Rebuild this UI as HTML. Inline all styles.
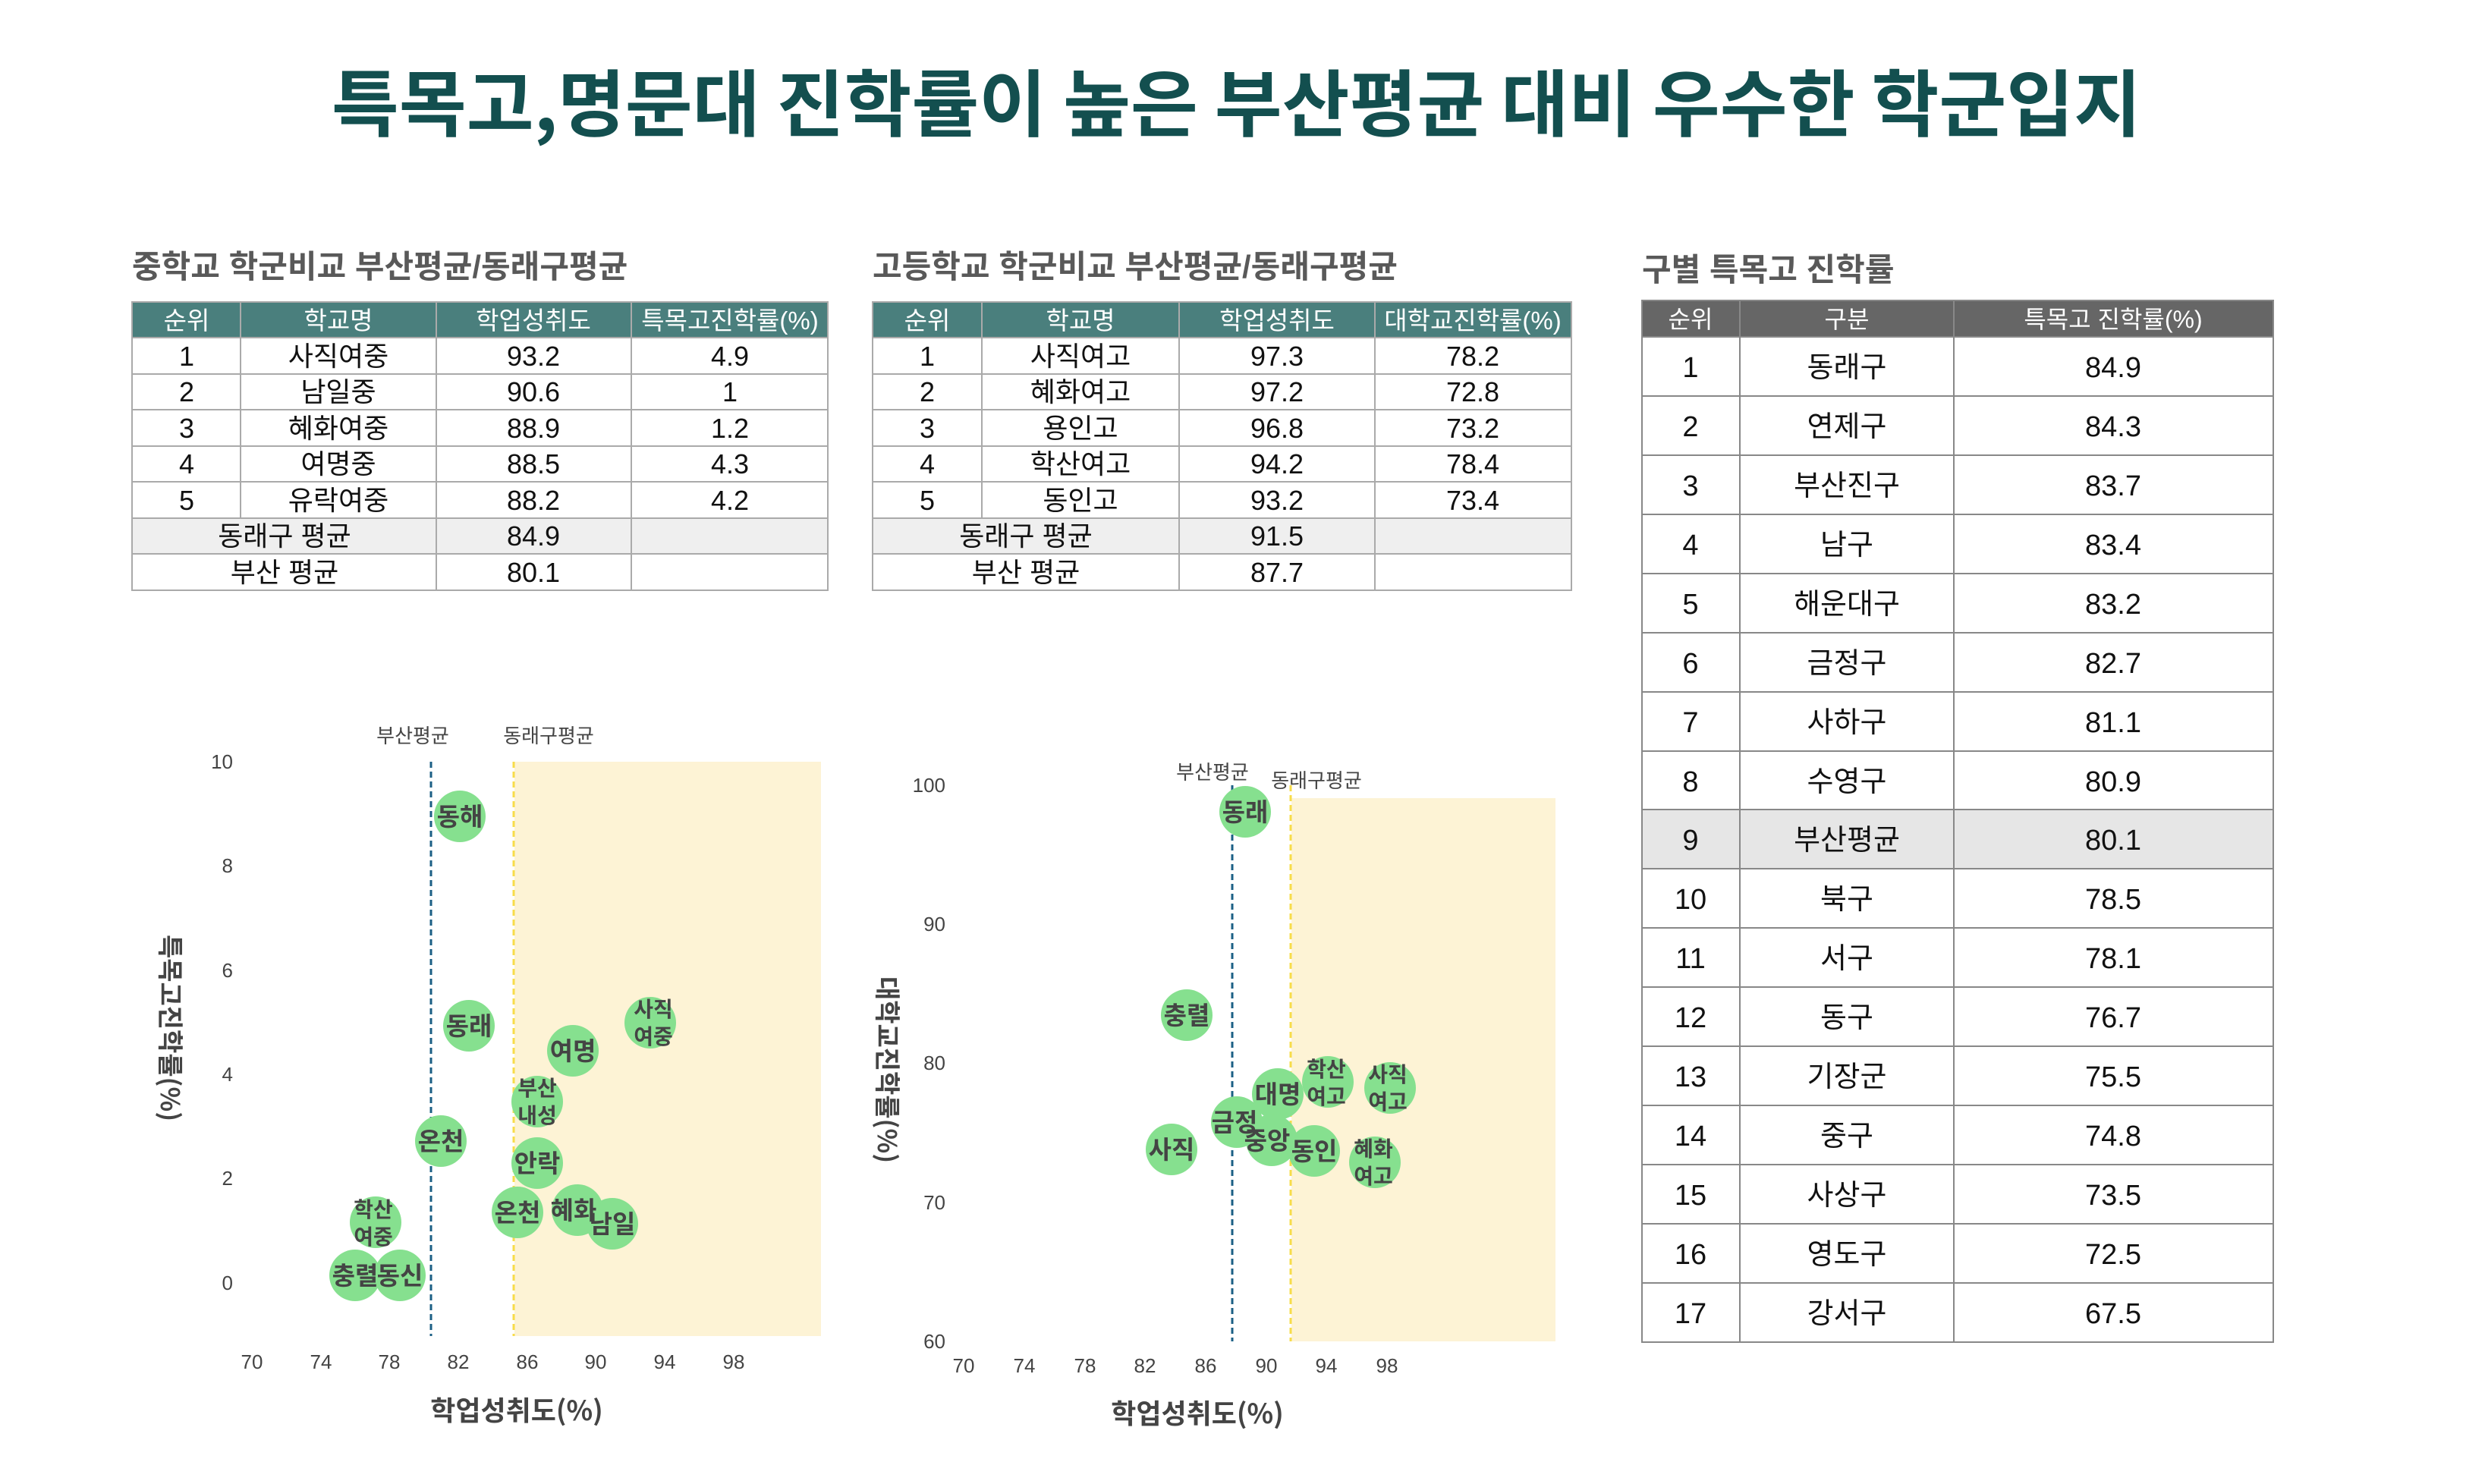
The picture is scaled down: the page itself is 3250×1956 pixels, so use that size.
<!DOCTYPE html>
<html><head><meta charset="utf-8"><style>
html,body{margin:0;padding:0;background:#fff;}
svg{display:block;}
text{font-family:"Liberation Sans","Noto Sans CJK KR",sans-serif;}
.k{font-family:"Noto Sans CJK KR","Liberation Sans",sans-serif;}
</style></head><body>
<svg width="3250" height="1956" viewBox="0 0 3250 1956" xmlns="http://www.w3.org/2000/svg">
<rect width="3250" height="1956" fill="#fff"/>
<text class="k" x="437" y="172" font-size="96" font-weight="700" fill="#134f4f" textLength="2385" lengthAdjust="spacingAndGlyphs">특목고,명문대 진학률이 높은 부산평균 대비 우수한 학군입지</text>

<g class="k" font-size="42" font-weight="700" fill="#595959">
<text x="174" y="366">중학교 학군비교 부산평균/동래구평균</text>
<text x="1150" y="366">고등학교 학군비교 부산평균/동래구평균</text>
<text x="2164" y="370">구별 특목고 진학률</text>
</g>

<!-- Table 1 -->
<g font-size="36" fill="#111" text-anchor="middle">
<rect x="174" y="398" width="917" height="47" fill="#4a7f7d"/>
<rect x="174" y="683" width="917" height="47" fill="#efefef"/>
<g fill="#fff" font-size="33"><text x="246" y="434">순위</text><text x="446" y="434">학교명</text><text x="703" y="434">학업성취도</text><text x="962" y="434">특목고진학률(%)</text></g>
<g stroke="#aaa" stroke-width="2" fill="none">
<rect x="174" y="398" width="917" height="380"/>
<line x1="174" y1="445" x2="1091" y2="445"/><line x1="174" y1="493" x2="1091" y2="493"/><line x1="174" y1="540" x2="1091" y2="540"/><line x1="174" y1="588" x2="1091" y2="588"/><line x1="174" y1="635" x2="1091" y2="635"/><line x1="174" y1="683" x2="1091" y2="683"/><line x1="174" y1="730" x2="1091" y2="730"/>
<line x1="317" y1="398" x2="317" y2="683"/><line x1="575" y1="398" x2="575" y2="778"/><line x1="832" y1="398" x2="832" y2="778"/>
</g>
<text x="246" y="482">1</text><text x="446" y="482">사직여중</text><text x="703" y="482">93.2</text><text x="962" y="482">4.9</text>
<text x="246" y="529">2</text><text x="446" y="529">남일중</text><text x="703" y="529">90.6</text><text x="962" y="529">1</text>
<text x="246" y="577">3</text><text x="446" y="577">혜화여중</text><text x="703" y="577">88.9</text><text x="962" y="577">1.2</text>
<text x="246" y="624">4</text><text x="446" y="624">여명중</text><text x="703" y="624">88.5</text><text x="962" y="624">4.3</text>
<text x="246" y="672">5</text><text x="446" y="672">유락여중</text><text x="703" y="672">88.2</text><text x="962" y="672">4.2</text>
<text x="375" y="719">동래구 평균</text><text x="703" y="719">84.9</text>
<text x="375" y="767">부산 평균</text><text x="703" y="767">80.1</text>
</g>

<!-- Table 2 -->
<g font-size="36" fill="#111" text-anchor="middle">
<rect x="1150" y="398" width="921" height="47" fill="#4a7f7d"/>
<rect x="1150" y="683" width="921" height="47" fill="#efefef"/>
<g fill="#fff" font-size="33"><text x="1222" y="434">순위</text><text x="1424" y="434">학교명</text><text x="1683" y="434">학업성취도</text><text x="1941" y="434">대학교진학률(%)</text></g>
<g stroke="#aaa" stroke-width="2" fill="none">
<rect x="1150" y="398" width="921" height="380"/>
<line x1="1150" y1="445" x2="2071" y2="445"/><line x1="1150" y1="493" x2="2071" y2="493"/><line x1="1150" y1="540" x2="2071" y2="540"/><line x1="1150" y1="588" x2="2071" y2="588"/><line x1="1150" y1="635" x2="2071" y2="635"/><line x1="1150" y1="683" x2="2071" y2="683"/><line x1="1150" y1="730" x2="2071" y2="730"/>
<line x1="1294" y1="398" x2="1294" y2="683"/><line x1="1554" y1="398" x2="1554" y2="778"/><line x1="1812" y1="398" x2="1812" y2="778"/>
</g>
<text x="1222" y="482">1</text><text x="1424" y="482">사직여고</text><text x="1683" y="482">97.3</text><text x="1941" y="482">78.2</text>
<text x="1222" y="529">2</text><text x="1424" y="529">혜화여고</text><text x="1683" y="529">97.2</text><text x="1941" y="529">72.8</text>
<text x="1222" y="577">3</text><text x="1424" y="577">용인고</text><text x="1683" y="577">96.8</text><text x="1941" y="577">73.2</text>
<text x="1222" y="624">4</text><text x="1424" y="624">학산여고</text><text x="1683" y="624">94.2</text><text x="1941" y="624">78.4</text>
<text x="1222" y="672">5</text><text x="1424" y="672">동인고</text><text x="1683" y="672">93.2</text><text x="1941" y="672">73.4</text>
<text x="1352" y="719">동래구 평균</text><text x="1683" y="719">91.5</text>
<text x="1352" y="767">부산 평균</text><text x="1683" y="767">87.7</text>
</g>

<!-- Table 3 -->
<g font-size="38" fill="#111" text-anchor="middle">
<rect x="2164" y="396" width="832" height="48" fill="#666"/>
<rect x="2164" y="1067" width="832" height="78" fill="#e6e6e6"/>
<g fill="#fff" font-size="32"><text x="2228" y="432">순위</text><text x="2434" y="432">구분</text><text x="2785" y="432">특목고 진학률(%)</text></g>
<g stroke="#888" stroke-width="2" fill="none">
<rect x="2164" y="396" width="832" height="1373"/>
<line x1="2293" y1="396" x2="2293" y2="1769"/><line x1="2575" y1="396" x2="2575" y2="1769"/>
<line x1="2164" y1="444" x2="2996" y2="444"/>
<line x1="2164" y1="522" x2="2996" y2="522"/><line x1="2164" y1="600" x2="2996" y2="600"/><line x1="2164" y1="678" x2="2996" y2="678"/><line x1="2164" y1="756" x2="2996" y2="756"/><line x1="2164" y1="834" x2="2996" y2="834"/><line x1="2164" y1="912" x2="2996" y2="912"/><line x1="2164" y1="990" x2="2996" y2="990"/><line x1="2164" y1="1067" x2="2996" y2="1067"/><line x1="2164" y1="1145" x2="2996" y2="1145"/><line x1="2164" y1="1223" x2="2996" y2="1223"/><line x1="2164" y1="1301" x2="2996" y2="1301"/><line x1="2164" y1="1379" x2="2996" y2="1379"/><line x1="2164" y1="1457" x2="2996" y2="1457"/><line x1="2164" y1="1535" x2="2996" y2="1535"/><line x1="2164" y1="1613" x2="2996" y2="1613"/><line x1="2164" y1="1691" x2="2996" y2="1691"/>
</g>
<text x="2228" y="497">1</text><text x="2434" y="497">동래구</text><text x="2785" y="497">84.9</text>
<text x="2228" y="575">2</text><text x="2434" y="575">연제구</text><text x="2785" y="575">84.3</text>
<text x="2228" y="653">3</text><text x="2434" y="653">부산진구</text><text x="2785" y="653">83.7</text>
<text x="2228" y="731">4</text><text x="2434" y="731">남구</text><text x="2785" y="731">83.4</text>
<text x="2228" y="809">5</text><text x="2434" y="809">해운대구</text><text x="2785" y="809">83.2</text>
<text x="2228" y="887">6</text><text x="2434" y="887">금정구</text><text x="2785" y="887">82.7</text>
<text x="2228" y="965">7</text><text x="2434" y="965">사하구</text><text x="2785" y="965">81.1</text>
<text x="2228" y="1043">8</text><text x="2434" y="1043">수영구</text><text x="2785" y="1043">80.9</text>
<text x="2228" y="1120">9</text><text x="2434" y="1120">부산평균</text><text x="2785" y="1120">80.1</text>
<text x="2228" y="1198">10</text><text x="2434" y="1198">북구</text><text x="2785" y="1198">78.5</text>
<text x="2228" y="1276">11</text><text x="2434" y="1276">서구</text><text x="2785" y="1276">78.1</text>
<text x="2228" y="1354">12</text><text x="2434" y="1354">동구</text><text x="2785" y="1354">76.7</text>
<text x="2228" y="1432">13</text><text x="2434" y="1432">기장군</text><text x="2785" y="1432">75.5</text>
<text x="2228" y="1510">14</text><text x="2434" y="1510">중구</text><text x="2785" y="1510">74.8</text>
<text x="2228" y="1588">15</text><text x="2434" y="1588">사상구</text><text x="2785" y="1588">73.5</text>
<text x="2228" y="1666">16</text><text x="2434" y="1666">영도구</text><text x="2785" y="1666">72.5</text>
<text x="2228" y="1744">17</text><text x="2434" y="1744">강서구</text><text x="2785" y="1744">67.5</text>
</g>

<!-- Chart 1 -->
<rect x="678" y="1004" width="404" height="757" fill="#fdf3d5"/>
<line x1="568" y1="1004" x2="568" y2="1761" stroke="#1b5f85" stroke-width="3" stroke-dasharray="8,5"/>
<line x1="677" y1="1004" x2="677" y2="1761" stroke="#f7dc4a" stroke-width="3" stroke-dasharray="8,5"/>
<g font-size="26" fill="#444" text-anchor="middle" class="k">
<text x="544" y="979">부산평균</text><text x="723" y="979">동래구평균</text>
</g>
<g font-size="26" fill="#444" text-anchor="end">
<text x="307" y="1013">10</text><text x="307" y="1150">8</text><text x="307" y="1288">6</text><text x="307" y="1425">4</text><text x="307" y="1562">2</text><text x="307" y="1700">0</text>
</g>
<g font-size="26" fill="#444" text-anchor="middle">
<text x="332" y="1804">70</text><text x="423" y="1804">74</text><text x="513" y="1804">78</text><text x="604" y="1804">82</text><text x="695" y="1804">86</text><text x="785" y="1804">90</text><text x="876" y="1804">94</text><text x="967" y="1804">98</text>
</g>
<text class="k" x="681" y="1872" font-size="36" font-weight="700" fill="#444" text-anchor="middle">학업성취도(%)</text>
<text class="k" transform="translate(212,1355) rotate(90)" font-size="34" font-weight="700" fill="#444" text-anchor="middle">특목고진학률(%)</text>
<g fill="#86e08f">
<circle cx="606" cy="1076" r="34"/><circle cx="618" cy="1352" r="34"/><circle cx="755" cy="1385" r="34"/><circle cx="857" cy="1348" r="34"/><circle cx="708" cy="1452" r="34"/><circle cx="581" cy="1504" r="34"/><circle cx="708" cy="1533" r="34"/><circle cx="682" cy="1598" r="34"/><circle cx="761" cy="1595" r="34"/><circle cx="807" cy="1613" r="34"/><circle cx="495" cy="1611" r="34"/><circle cx="468" cy="1681" r="34"/><circle cx="527" cy="1681" r="34"/>
</g>
<g class="k" font-size="33" font-weight="700" fill="#444" text-anchor="middle">
<text x="606" y="1088">동해</text><text x="618" y="1364">동래</text><text x="755" y="1397">여명</text>
<text x="861" y="1340" font-size="28">사직</text><text x="861" y="1376" font-size="28">여중</text>
<text x="708" y="1444" font-size="28">부산</text><text x="708" y="1480" font-size="28">내성</text>
<text x="581" y="1516">온천</text><text x="708" y="1545">안락</text><text x="682" y="1610">온천</text><text x="756" y="1607">혜화</text><text x="807" y="1625">남일</text>
<text x="492" y="1604" font-size="28">학산</text><text x="492" y="1640" font-size="28">여중</text>
<text x="468" y="1693">충렬</text><text x="527" y="1693">동신</text>
</g>

<!-- Chart 2 -->
<rect x="1702" y="1052" width="348" height="716" fill="#fdf3d5"/>
<line x1="1624" y1="1035" x2="1624" y2="1768" stroke="#1b5f85" stroke-width="3" stroke-dasharray="8,5"/>
<line x1="1701" y1="1035" x2="1701" y2="1768" stroke="#f7dc4a" stroke-width="3" stroke-dasharray="8,5"/>
<g font-size="26" fill="#444" text-anchor="middle" class="k">
<text x="1598" y="1027">부산평균</text><text x="1735" y="1038">동래구평균</text>
</g>
<g font-size="26" fill="#444" text-anchor="end">
<text x="1246" y="1044">100</text><text x="1246" y="1227">90</text><text x="1246" y="1410">80</text><text x="1246" y="1594">70</text><text x="1246" y="1777">60</text>
</g>
<g font-size="26" fill="#444" text-anchor="middle">
<text x="1270" y="1809">70</text><text x="1350" y="1809">74</text><text x="1430" y="1809">78</text><text x="1509" y="1809">82</text><text x="1589" y="1809">86</text><text x="1669" y="1809">90</text><text x="1748" y="1809">94</text><text x="1828" y="1809">98</text>
</g>
<text class="k" x="1578" y="1876" font-size="36" font-weight="700" fill="#444" text-anchor="middle">학업성취도(%)</text>
<text class="k" transform="translate(1157,1410) rotate(90)" font-size="34" font-weight="700" fill="#444" text-anchor="middle">대학교진학률(%)</text>
<g fill="#86e08f">
<circle cx="1641" cy="1070" r="34"/><circle cx="1564" cy="1338" r="34"/><circle cx="1544" cy="1515" r="34"/><circle cx="1630" cy="1479" r="34"/><circle cx="1684" cy="1442" r="34"/><circle cx="1676" cy="1503" r="34"/><circle cx="1732" cy="1517" r="34"/><circle cx="1750" cy="1426" r="34"/><circle cx="1832" cy="1434" r="34"/><circle cx="1812" cy="1532" r="34"/>
</g>
<g class="k" font-size="33" font-weight="700" fill="#444" text-anchor="middle">
<text x="1641" y="1082">동래</text><text x="1564" y="1350">충렬</text><text x="1544" y="1527">사직</text>
<text x="1627" y="1491">금정</text><text x="1684" y="1454">대명</text><text x="1670" y="1515">중앙</text><text x="1732" y="1529">동인</text>
<text x="1748" y="1419" font-size="28">학산</text><text x="1748" y="1455" font-size="28">여고</text>
<text x="1829" y="1426" font-size="28">사직</text><text x="1829" y="1462" font-size="28">여고</text>
<text x="1810" y="1524" font-size="28">혜화</text><text x="1810" y="1560" font-size="28">여고</text>
</g>
</svg>
</body></html>
